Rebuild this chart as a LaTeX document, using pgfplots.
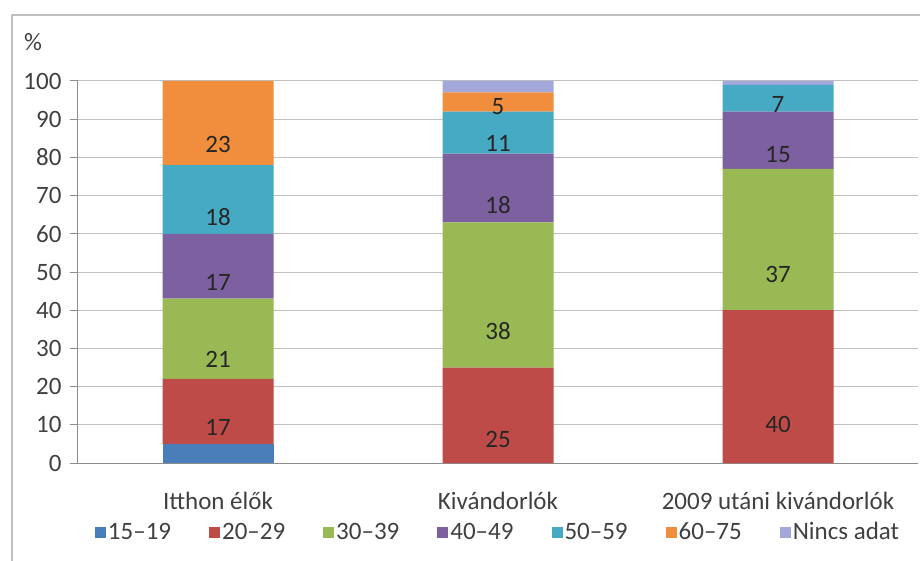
\documentclass[border=0pt]{standalone}
\usepackage{fontspec}
\setmainfont{Carlito}
\usepackage{pgfplots}
\pgfplotsset{compat=1.18}
\definecolor{k1}{HTML}{4A7EBB}
\definecolor{k2}{HTML}{BE4B48}
\definecolor{k3}{HTML}{98B954}
\definecolor{k4}{HTML}{7D60A0}
\definecolor{k5}{HTML}{46AAC5}
\definecolor{k6}{HTML}{F08E3E}
\definecolor{k7}{HTML}{A2A8DA}
\definecolor{gridc}{HTML}{BFBFBF}
\definecolor{axc}{HTML}{8C8C8C}
\definecolor{txt}{HTML}{404040}
\begin{document}
\fontsize{25}{29}\selectfont
\begin{tikzpicture}
\useasboundingbox (-78pt,-97pt) rectangle (842pt,463pt);
\draw[gridc, line width=2pt] (-66pt,-110pt) -- (-66pt,448pt) -- (860pt,448pt);
\node[txt] at (-45pt,421pt) {\%};
\begin{axis}[
    at={(0pt,0pt)}, anchor=south west,
    width=840pt, height=382pt, scale only axis,
    ybar stacked, bar width=111pt,
    xmin=-0.5, xmax=2.5, ymin=0, ymax=100,
    ytick distance=10,
    xtick={0,1,2},
    xticklabels={Itthon élők, Kivándorlók, 2009 utáni kivándorlók},
    extra x ticks={-0.5,0.5,1.5,2.5},
    extra x tick labels={},
    extra x tick style={major tick length=8pt, tick style={axc, line width=1pt}},
    tick align=outside,
    major tick length=8pt,
    xtick style={draw=none},
    ytick style={axc, line width=1pt},
    axis x line*=bottom, axis y line*=left,
    axis line style={-, axc, line width=1pt},
    ymajorgrids, grid style={gridc, line width=1pt},
    ticklabel style={txt, font=\fontsize{25}{29}\selectfont},
    xticklabel style={anchor=base, yshift=-38pt},
    /pgf/number format/assume math mode=true,
    point meta=explicit symbolic,
    nodes near coords,
    visualization depends on=rawy \as \rawy,
    every node near coord/.append style={anchor=center, text=black!85,
        font=\fontsize{25}{29}\selectfont,
        shift={(axis direction cs:0,-\rawy/4)}},
    legend columns=-1,
    legend style={at={(0.5,-0.183)}, anchor=center, draw=none,
        font=\fontsize{25}{29}\selectfont, text=txt,
        /tikz/every even column/.append style={column sep=36pt}},
    legend image code/.code={\fill[#1] (0pt,-5.5pt) rectangle (11pt,5.5pt);},
]
\addplot[fill=k1, draw=none] coordinates {(0,5) [] (1,0) [] (2,0) []};
\addplot[fill=k2, draw=none] coordinates {(0,17) [17] (1,25) [25] (2,40) [40]};
\addplot[fill=k3, draw=none] coordinates {(0,21) [21] (1,38) [38] (2,37) [37]};
\addplot[fill=k4, draw=none] coordinates {(0,17) [17] (1,18) [18] (2,15) [15]};
\addplot[fill=k5, draw=none] coordinates {(0,18) [18] (1,11) [11] (2,7) [7]};
\addplot[fill=k6, draw=none] coordinates {(0,22) [23] (1,5) [5] (2,0) []};
\addplot[fill=k7, draw=none] coordinates {(0,0) [] (1,3) [] (2,1) []};
\legend{15–19, 20–29, 30–39, 40–49, 50–59, 60–75, Nincs adat}
\end{axis}
\end{tikzpicture}
\end{document}
